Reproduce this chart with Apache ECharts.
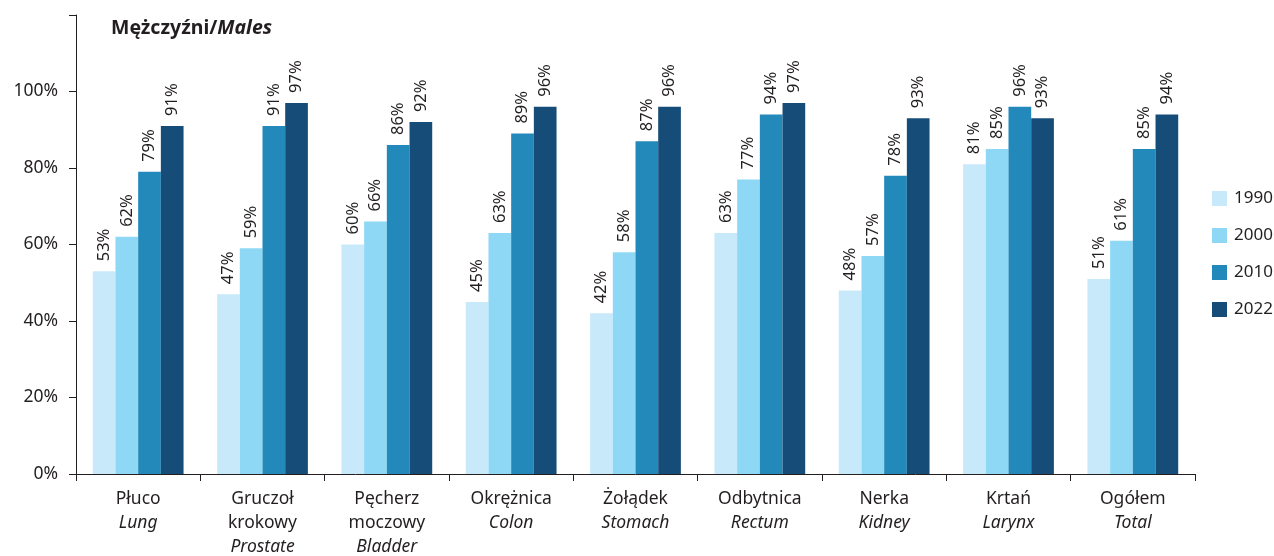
<!DOCTYPE html>
<html>
<head>
<meta charset="utf-8">
<script src="https://cdn.jsdelivr.net/npm/echarts@6/dist/echarts.min.js"></script>
<style>html,body{margin:0;padding:0;background:#fff;}#c{width:1274px;height:556px;}</style>
</head>
<body>
<div id="c"></div>
<script>
const categoriesPL = [['Płuco'], ['Gruczoł', 'krokowy'], ['Pęcherz', 'moczowy'], ['Okrężnica'], ['Żołądek'], ['Odbytnica'], ['Nerka'], ['Krtań'], ['Ogółem']];
const categoriesEN = ['Lung', 'Prostate', 'Bladder', 'Colon', 'Stomach', 'Rectum', 'Kidney', 'Larynx', 'Total'];
const seriesNames = ['1990', '2000', '2010', '2022'];
const v1990 = [53, 47, 60, 45, 42, 63, 48, 81, 51];
const v2000 = [62, 59, 66, 63, 58, 77, 57, 85, 61];
const v2010 = [79, 91, 86, 89, 87, 94, 78, 96, 85];
const v2022 = [91, 97, 92, 96, 96, 97, 93, 93, 94];
const yTicks = [0, 20, 40, 60, 80, 100];

const colors = ['#c7e9f9', '#8ed8f6', '#2389ba', '#164c78'];
const FONT = '"Noto Sans", "Open Sans", sans-serif';
const TXT = '#231f20';

const categories = categoriesPL.map((p, i) => p.join('\n') + '\n' + categoriesEN[i]);
const values = [v1990, v2000, v2010, v2022];

const chart = echarts.init(document.getElementById('c'), null, {renderer: 'canvas'});
chart.setOption({
  animation: false,
  title: {
    text: '{a|Mężczyźni/}{b|Males}',
    left: 106, top: 13,
    textStyle: {
      rich: {
        a: {fontFamily: FONT, fontSize: 19.5, fontWeight: 'bold', color: TXT},
        b: {fontFamily: FONT, fontSize: 19.5, fontWeight: 'bold', fontStyle: 'italic', color: TXT}
      }
    }
  },
  legend: {
    orient: 'vertical',
    left: 1207, top: 185,
    itemWidth: 15, itemHeight: 15, itemGap: 20,
    icon: 'rect',
    data: seriesNames,
    textStyle: {fontFamily: FONT, fontSize: 17, color: TXT, padding: [0, 0, 0, 2]}
  },
  grid: {left: 76, right: 79, top: 15, bottom: 82, containLabel: false},
  xAxis: {
    type: 'category',
    data: categories,
    axisLine: {lineStyle: {color: TXT, width: 1}},
    axisTick: {show: true, length: 7, lineStyle: {color: TXT}, alignWithLabel: false},
    axisLabel: {
      interval: 0, margin: 13,
      formatter: function (val, idx) {
        const p = categoriesPL[idx];
        return p.map(s => '{a|' + s + '}').join('\n') + '\n{b|' + categoriesEN[idx] + '}';
      },
      rich: {
        a: {fontFamily: FONT, fontSize: 17.5, color: TXT, lineHeight: 24},
        b: {fontFamily: FONT, fontSize: 17.5, fontStyle: 'italic', color: TXT, lineHeight: 24}
      }
    }
  },
  yAxis: {
    type: 'value', min: 0, max: 120, interval: 20,
    axisLine: {show: true, lineStyle: {color: TXT, width: 1}},
    axisTick: {show: true, length: 7, lineStyle: {color: TXT}},
    splitLine: {show: false},
    axisLabel: {
      margin: 18, fontFamily: FONT, fontSize: 17.5, color: TXT,
      formatter: v => (yTicks.indexOf(v) >= 0 ? v + '%' : '')
    }
  },
  series: seriesNames.map((n, i) => ({
    name: n,
    type: 'bar',
    data: values[i],
    barGap: '0%',
    barCategoryGap: '27%',
    itemStyle: {color: colors[i]},
    label: {
      show: true, position: 'top', rotate: 90, align: 'left', verticalAlign: 'middle',
      distance: 10, formatter: '{c}%', fontFamily: FONT, fontSize: 16.5, color: TXT
    }
  }))
});
</script>
</body>
</html>
